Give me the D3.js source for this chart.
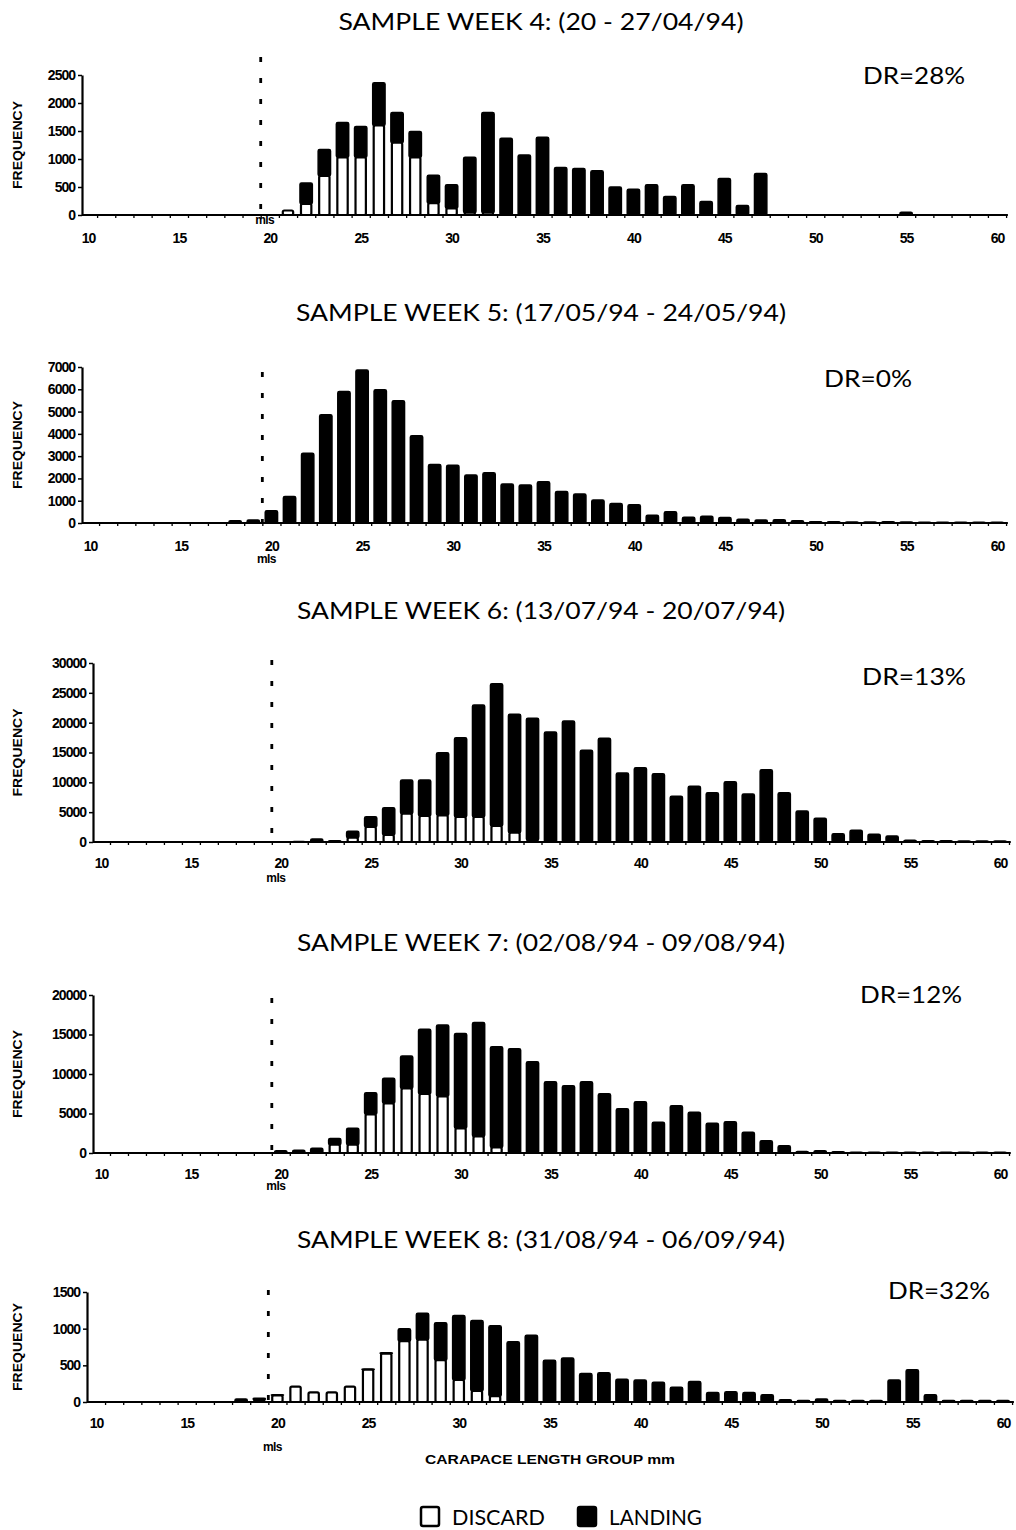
<!DOCTYPE html>
<html><head><meta charset="utf-8">
<script src="https://cdn.jsdelivr.net/npm/d3@7"></script>
<style>body{margin:0;background:#fff}svg{display:block}</style>
</head><body>
<svg id="c" width="1016" height="1530"></svg>
<script>
// ---------- DATA ----------
const lengths = [10,11,12,13,14,15,16,17,18,19,20,21,22,23,24,25,26,27,28,29,30,31,32,33,34,35,36,37,38,39,40,41,42,43,44,45,46,47,48,49,50,51,52,53,54,55,56,57,58,59,60];
const xTickLabels = [10,15,20,25,30,35,40,45,50,55,60];
const titles = ["SAMPLE WEEK 4: (20 - 27/04/94)","SAMPLE WEEK 5: (17/05/94 - 24/05/94)","SAMPLE WEEK 6: (13/07/94 - 20/07/94)","SAMPLE WEEK 7: (02/08/94 - 09/08/94)","SAMPLE WEEK 8: (31/08/94 - 06/09/94)"];
const drLabels = ["DR=28%","DR=0%","DR=13%","DR=12%","DR=32%"];
const yTicks = [[0,500,1000,1500,2000,2500],[0,1000,2000,3000,4000,5000,6000,7000],[0,5000,10000,15000,20000,25000,30000],[0,5000,10000,15000,20000],[0,500,1000,1500]];
const mls = 19.5;

const discard4 = [0,0,0,0,0,0,0,0,0,0,0, 80,200,700,1030,1030,1600,1290,1030,210,120, 40,40,0,0,0,0,0,0,0,0, 0,0,0,0,0,0,0,0,0,0, 0,0,0,0,0,0,0,0,0,0];
const landing4 = [0,0,0,0,0,0,0,0,0,0,0, 0,370,470,620,550,760,540,460,500,420, 990,1790,1370,1070,1390,850,830,790,500,460, 540,330,540,240,650,170,740,0,0,0, 0,0,0,0,50,0,0,0,0,0];

const discard5 = [0,0,0,0,0,0,0,0,0,0,0, 0,0,0,0,0,0,0,0,0,0, 0,0,0,0,0,0,0,0,0,0, 0,0,0,0,0,0,0,0,0,0, 0,0,0,0,0,0,0,0,0,0];
const landing5 = [0,0,0,0,0,0,0,0,100,130,550, 1190,3130,4860,5900,6860,5980,5480,3920,2630,2590, 2150,2260,1750,1700,1850,1410,1300,1030,870,820, 350,500,260,300,250,170,130,150,100,60, 60,40,50,60,40,30,30,30,30,30];

const discard6 = [0,0,0,0,0,0,0,0,0,0,0, 0,0,0,720,2510,1170,4750,4360,4470,4190, 4190,2680,1560,300,0,0,0,0,0,0, 0,0,0,0,0,0,0,0,0,0, 0,0,0,0,0,0,0,0,0,0];
const landing6 = [0,0,0,0,0,0,0,0,0,0,0, 100,500,200,1070,1730,4580,5640,6030,10500,13290, 18770,23850,19840,20430,18430,20280,15370,17380,11560,12460, 11450,7650,9330,8270,10110,8040,12120,8270,5200,3970, 1400,1960,1290,1000,300,200,200,150,150,150];

const discard7 = [0,0,0,0,0,0,0,0,0,0,0, 0,0,1050,1050,4900,6290,8180,7470,7170,3120, 2100,700,0,0,0,0,0,0,0,0, 0,0,0,0,0,0,0,0,0,0, 0,0,0,0,0,0,0,0,0,0];
const landing7 = [0,0,0,0,0,0,0,0,0,0,300, 350,590,800,2070,2730,3160,4090,8180,9030,12020, 14430,12760,13200,11560,9030,8520,9030,7510,5610,6500, 3890,5990,5150,3760,3960,2620,1560,930,200,300, 150,100,100,100,100,80,80,80,80,80];

const discard8 = [0,0,0,0,0,0,0,0,0,30,90, 210,130,130,210,440,660,830,850,570,300, 150,80,0,0,0,0,0,0,0,0, 0,0,0,0,0,0,0,0,0,0, 0,0,0,0,0,0,0,0,0,0];
const landing8 = [0,0,0,0,0,0,0,0,40,20,10, 0,0,0,0,10,10,170,360,510,880, 960,960,820,910,570,600,390,400,310,300, 270,200,280,130,140,130,100,30,20,40, 20,20,20,300,440,100,20,20,20,20];

const weeks = [[discard4,landing4],[discard5,landing5],[discard6,landing6],[discard7,landing7],[discard8,landing8]];

// ---------- LAYOUT ----------
const layout = [
  {titleY:30, top:75,  base:215, x10:88,  x60:997,  yAxisX:82, dotTop:57,  drX:914, drY:84,  tickY:246,  mlsY:224},
  {titleY:321,top:367, base:523, x10:90,  x60:997,  yAxisX:82, dotTop:372, drX:868, drY:387, tickY:554,  mlsY:563},
  {titleY:619,top:663, base:842, x10:101, x60:1000, yAxisX:93, dotTop:660, drX:914, drY:685, tickY:871,  mlsY:882},
  {titleY:951,top:995, base:1153,x10:101, x60:1000, yAxisX:93, dotTop:998, drX:911, drY:1003,tickY:1182, mlsY:1190},
  {titleY:1248,top:1292,base:1402,x10:96, x60:1003, yAxisX:87, dotTop:1290,drX:939, drY:1299,tickY:1431, mlsY:1451}
];
const titleLen = [405,490,488,488,488];
const drLen = [102,88,104,102,102];

const svg = d3.select("#c");
const fontMain = "Lato, 'Open Sans', sans-serif";
const fontTick = "'Liberation Sans', Arial, sans-serif";

weeks.forEach((wk, i) => {
  const L = layout[i];
  const yMax = yTicks[i][yTicks[i].length-1];
  const x = d3.scaleLinear().domain([10,60]).range([L.x10, L.x60]);
  const step = x(11) - x(10);
  const y = d3.scaleLinear().domain([0, yMax]).range([L.base, L.top]);
  const g = svg.append("g");

  // title
  g.append("text").attr("x", 541).attr("y", L.titleY).attr("text-anchor","middle")
    .attr("font-family", fontMain).attr("font-size", 24).attr("fill","#000")
    .attr("textLength", titleLen[i]).attr("lengthAdjust","spacingAndGlyphs").text(titles[i]);
  // DR
  g.append("text").attr("x", L.drX).attr("y", L.drY).attr("text-anchor","middle")
    .attr("font-family", fontMain).attr("font-size", 23).attr("fill","#000")
    .attr("textLength", drLen[i]).attr("lengthAdjust","spacingAndGlyphs").text(drLabels[i]);

  // stacked data
  const rows = lengths.map((len, k) => ({len, discard: wk[0][k], landing: wk[1][k]}));
  const stack = d3.stack().keys(["discard","landing"])(rows);
  const bw = step * 0.68;

  // landing (black)
  g.append("g").selectAll("rect").data(stack[1].filter(d => d.data.landing > 0)).join("rect")
    .attr("x", d => x(d.data.len) - bw/2).attr("width", bw)
    .attr("y", d => y(d[1])).attr("height", d => Math.max(0.8, y(d[0]) - y(d[1])))
    .attr("fill","#000").attr("stroke","#000").attr("stroke-width",1.5).attr("rx",1.5);
  // discard (white)
  g.append("g").selectAll("rect").data(stack[0].filter(d => d.data.discard > 0)).join("rect")
    .attr("x", d => x(d.data.len) - bw/2 + 1).attr("width", bw - 2)
    .attr("y", d => y(d[1])).attr("height", d => Math.max(1, y(d[0]) - y(d[1])))
    .attr("fill","#fff").attr("stroke","#000").attr("stroke-width",2.2).attr("rx",1.5);

  // y axis
  const ya = g.append("g").attr("transform", `translate(${L.yAxisX},0)`)
    .call(d3.axisLeft(y).tickValues(yTicks[i]).tickFormat(d3.format("d")).tickSize(4).tickPadding(3).tickSizeOuter(0));
  ya.select(".domain").attr("stroke","#000").attr("stroke-width",2.2);
  ya.selectAll(".tick line").attr("stroke","#000").attr("stroke-width",1.5);
  ya.selectAll(".tick text").attr("font-family", fontTick).attr("font-weight","bold")
    .attr("font-size", 14).attr("letter-spacing", -1).attr("fill","#000");

  // x axis: line + minor ticks at band boundaries
  const xa = g.append("g").attr("transform", `translate(0,${L.base})`);
  xa.append("line").attr("x1", L.yAxisX).attr("x2", x(60.6)).attr("stroke","#000").attr("stroke-width",2.2);
  const bounds = lengths.map(v => v + 0.5);
  xa.call(d3.axisBottom(x).tickValues(bounds).tickSize(3).tickFormat(""));
  xa.select(".domain").remove();
  xa.selectAll(".tick line").attr("stroke","#000").attr("stroke-width",1.3);
  // tick labels
  const xl = g.append("g").attr("transform", `translate(0,${L.tickY - 13})`)
    .call(d3.axisBottom(x).tickValues(xTickLabels).tickSize(0).tickPadding(0));
  xl.select(".domain").remove();
  xl.selectAll(".tick text").attr("font-family", fontTick).attr("font-weight","bold")
    .attr("font-size", 14).attr("letter-spacing", -1).attr("fill","#000");

  // mls dotted line
  g.append("line").attr("x1", x(mls)).attr("x2", x(mls)).attr("y1", L.dotTop).attr("y2", L.base)
    .attr("stroke","#000").attr("stroke-width",2.8).attr("stroke-dasharray","5,16");
  g.append("text").attr("x", x(mls) + 4).attr("y", L.mlsY).attr("text-anchor","middle")
    .attr("font-family", fontTick).attr("font-weight","bold").attr("font-size", 12)
    .attr("letter-spacing", -0.6).text("mls");

  // y label
  const midY = (L.top + L.base) / 2;
  g.append("text").attr("transform", `translate(22,${midY}) rotate(-90)`).attr("text-anchor","middle")
    .attr("font-family", fontTick).attr("font-weight","bold").attr("font-size", 12)
    .attr("textLength", 88).attr("lengthAdjust","spacingAndGlyphs").text("FREQUENCY");
});

// x title
svg.append("text").attr("x", 550).attr("y", 1464).attr("text-anchor","middle")
  .attr("font-family", fontTick).attr("font-weight","bold").attr("font-size", 12)
  .attr("textLength", 250).attr("lengthAdjust","spacingAndGlyphs").text("CARAPACE LENGTH GROUP mm");

// legend
const legendItems = [{label:"DISCARD", fill:"#fff", x:420},{label:"LANDING", fill:"#000", x:577}];
const lg = svg.append("g");
legendItems.forEach(it => {
  lg.append("rect").attr("x", it.x + 1).attr("y", 1507).attr("width", 18).attr("height", 19).attr("rx",2)
    .attr("fill", it.fill).attr("stroke","#000").attr("stroke-width",2.5);
  lg.append("text").attr("x", it.x + 32).attr("y", 1525).attr("font-family", fontMain)
    .attr("font-size", 21).attr("textLength", 93).attr("lengthAdjust","spacingAndGlyphs").text(it.label);
});
</script>
</body></html>
